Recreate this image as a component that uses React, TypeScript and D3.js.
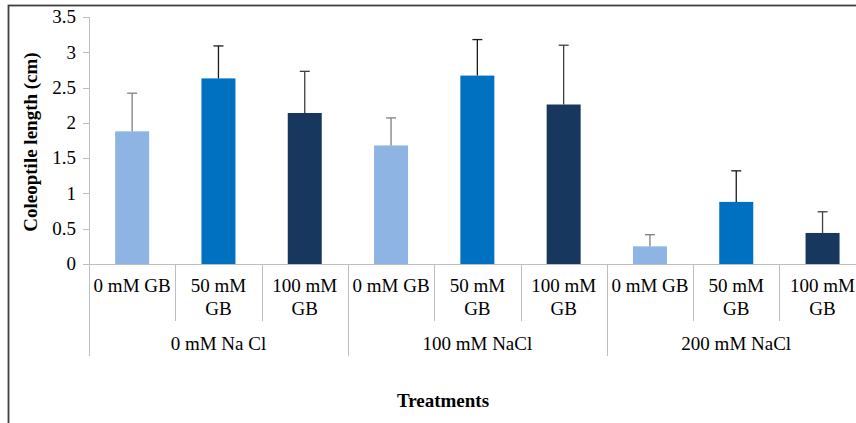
import React from "react";
import * as d3 from "d3";

const groups = ["0 mM Na Cl", "100 mM NaCl", "200 mM NaCl"];
const treatments = [["0 mM GB"], ["50 mM", "GB"], ["100 mM", "GB"]];
const means = [1.88, 2.63, 2.14, 1.68, 2.67, 2.26, 0.25, 0.88, 0.44];
const errors = [0.54, 0.46, 0.59, 0.39, 0.51, 0.84, 0.165, 0.44, 0.3];
const yTicks = [0, 0.5, 1, 1.5, 2, 2.5, 3, 3.5];
const colors = ["#8EB4E3", "#0070C0", "#17375E"];
const errColors = ["#7F7F7F", "#1a1a1a", "#404040"];

export default function App() {
  const W = 856, H = 423;
  const x0 = 89, catW = 86.3;
  const n = means.length;
  const x = d3.scaleBand<number>().domain(d3.range(n)).range([x0, x0 + n * catW]).paddingInner(0).paddingOuter(0);
  const gx = d3.scaleBand<number>().domain(d3.range(groups.length)).range([x0, x0 + n * catW]);
  const y = d3.scaleLinear().domain([0, 3.5]).range([264, 17]);
  const barW = 34;
  const font = "'Liberation Serif', 'Times New Roman', serif";
  const axisColor = "#BFBFBF";
  return (
    <svg width={W} height={H} style={{ position: "absolute", left: 0, top: 0, background: "#fff" }} fontFamily={font}>
      <rect x={8.5} y={5.5} width={1000} height={1000} fill="#fff" stroke="#3f3f3f" strokeWidth={1.8} />
      {/* y axis */}
      <line x1={x0 + 0.5} x2={x0 + 0.5} y1={y(3.5)} y2={y(0)} stroke={axisColor} />
      {yTicks.map((t) => (
        <g key={t}>
          <line x1={x0 - 6} x2={x0} y1={Math.round(y(t)) + 0.5} y2={Math.round(y(t)) + 0.5} stroke={axisColor} />
          <text x={76} y={y(t)} dy="0.33em" textAnchor="end" fontSize={19} fill="#000">{t}</text>
        </g>
      ))}
      {/* bars */}
      {means.map((v, i) => {
        const cx = (x(i) as number) + x.bandwidth() / 2;
        const top = y(v);
        const et = y(v + errors[i]);
        return (
          <g key={i}>
            <rect x={cx - barW / 2} y={top} width={barW} height={y(0) - top} fill={colors[i % 3]} />
            <line x1={cx} x2={cx} y1={top} y2={et} stroke={errColors[i % 3]} strokeWidth={1.3} />
            <line x1={cx - 5} x2={cx + 5} y1={et} y2={et} stroke={errColors[i % 3]} strokeWidth={1.3} />
          </g>
        );
      })}
      {/* x axis */}
      <line x1={x0} x2={W} y1={264.5} y2={264.5} stroke={axisColor} />
      {d3.range(n + 1).map((i) => {
        const xx = Math.round(x0 + i * catW) + 0.5;
        const isGroup = i % 3 === 0;
        return <line key={"s" + i} x1={xx} x2={xx} y1={264} y2={isGroup ? 356 : 321} stroke={axisColor} />;
      })}
      {means.map((_, i) => {
        const cx = (x(i) as number) + x.bandwidth() / 2;
        const lines = treatments[i % 3];
        return (
          <text key={"l" + i} x={cx} y={292} textAnchor="middle" fontSize={19} fill="#000">
            {lines.map((l, j) => (
              <tspan key={j} x={cx} dy={j === 0 ? 0 : 23}>{l}</tspan>
            ))}
          </text>
        );
      })}
      {groups.map((g, i) => (
        <text key={g} x={(gx(i) as number) + gx.bandwidth() / 2} y={350} textAnchor="middle" fontSize={19} fill="#000">{g}</text>
      ))}
      <text transform={`translate(30,142) rotate(-90)`} textAnchor="middle" dy="0.35em" fontSize={19} fontWeight="bold" fill="#000">Coleoptile length (cm)</text>
      <text x={443} y={407} textAnchor="middle" fontSize={19} fontWeight="bold" fill="#000">Treatments</text>
    </svg>
  );
}
